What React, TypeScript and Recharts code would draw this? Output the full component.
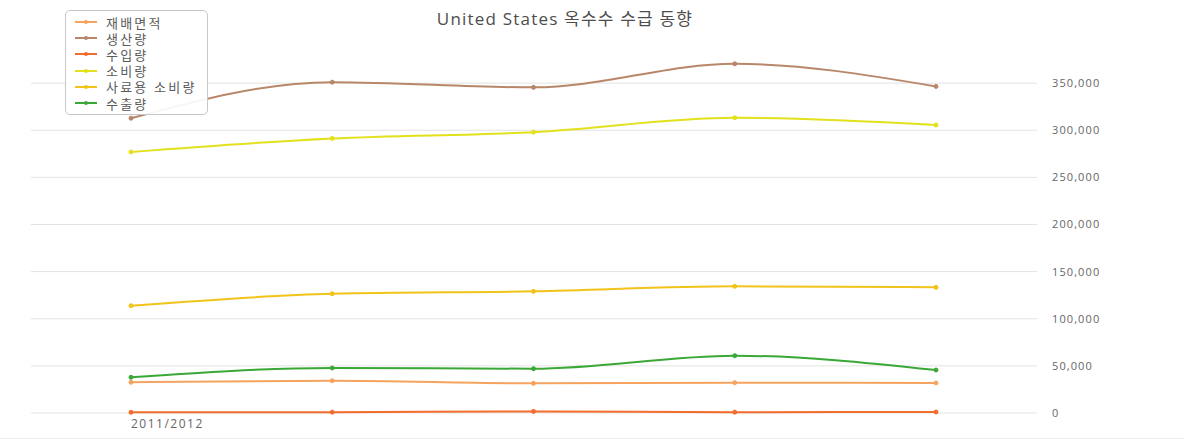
import { LineChart, Line, XAxis, YAxis, CartesianGrid } from 'recharts'

const categories = ['2011/2012', '2013/2014', '2015/2016', '2017/2018', '2019/2020']
const area = [32600, 34300, 31500, 32200, 31800]
const production = [312800, 351000, 345500, 370500, 346500]
const imports = [740, 920, 1720, 910, 1070]
const consumption = [277000, 291300, 298000, 313200, 305500]
const feed = [113800, 126500, 129100, 134400, 133300]
const exports = [37900, 47700, 47000, 60800, 45600]
const yTicks = [0, 50000, 100000, 150000, 200000, 250000, 300000, 350000]

const series = [
  { key: 'area', name: '재배면적', color: '#f5a35f', values: area },
  { key: 'production', name: '생산량', color: '#b8876a', values: production },
  { key: 'imports', name: '수입량', color: '#f26c2c', values: imports },
  { key: 'consumption', name: '소비량', color: '#e3e01c', values: consumption },
  { key: 'feed', name: '사료용 소비량', color: '#f2c31b', values: feed },
  { key: 'exports', name: '수출량', color: '#3aa836', values: exports },
]

const data = categories.map((c, i) => {
  const row: Record<string, string | number> = { year: c }
  series.forEach((s) => { row[s.key] = s.values[i] })
  return row
})

const FONT = '"Open Sans", "Noto Sans CJK KR", sans-serif'

function LegendBox() {
  return (
    <div
      style={{
        position: 'absolute',
        left: 65,
        top: 10,
        width: 143,
        height: 105,
        border: '1px solid #c8c8c8',
        borderRadius: 5,
        background: 'rgba(255,255,255,0.92)',
        boxSizing: 'border-box',
        padding: '3px 0 0 9px',
        fontFamily: FONT,
        zIndex: 3,
      }}
    >
      {series.map((s) => (
        <div key={s.key} style={{ display: 'flex', alignItems: 'center', height: 16.2 }}>
          <svg width={22} height={10} style={{ marginRight: 9 }}>
            <line x1={0} y1={5} x2={22} y2={5} stroke={s.color} strokeWidth={2} />
            <circle cx={11} cy={5} r={2} fill={s.color} />
          </svg>
          <span style={{ fontSize: 13, letterSpacing: 2.2, color: '#5a5a5a', whiteSpace: 'nowrap' }}>{s.name}</span>
        </div>
      ))}
    </div>
  )
}

function XTick(props: any) {
  const { x, y, payload } = props
  if (payload.index !== 0) return null
  return (
    <text x={x} y={y + 7} textAnchor="start" fontSize={12} letterSpacing={1.5} fill="#666" fontFamily={FONT}>
      {payload.value}
    </text>
  )
}

export default function App() {
  return (
    <div style={{ position: 'absolute', left: 0, top: 0, width: 1184, height: 443, background: '#fff' }}>
      <div
        style={{
          position: 'absolute',
          left: 265,
          width: 600,
          top: 5,
          textAlign: 'center',
          fontSize: 17,
          letterSpacing: 1.2,
          color: '#4d4d4d',
          fontFamily: FONT,
          zIndex: 2,
        }}
      >
        United States 옥수수 수급 동향
      </div>
      <LineChart width={1184} height={443} data={data} margin={{ top: 36, right: 0, bottom: 5, left: 31 }}>
        <CartesianGrid vertical={false} stroke="#e3e3e3" horizontalValues={yTicks} />
        <XAxis
          dataKey="year"
          height={25}
          axisLine={false}
          tickLine={false}
          tick={<XTick />}
          interval={0}
          padding={{ left: 100, right: 101 }}
        />
        <YAxis
          orientation="right"
          width={147}
          domain={[0, 400000]}
          ticks={yTicks}
          axisLine={false}
          tickLine={false}
          tickMargin={9}
          tickFormatter={(v: number) => v.toLocaleString('en-US')}
          tick={{ fontSize: 11, letterSpacing: 1.1, fill: '#666', fontFamily: FONT, textAnchor: 'start' }}
        />
        {series.map((s) => (
          <Line
            key={s.key}
            type="monotone"
            dataKey={s.key}
            name={s.name}
            stroke={s.color}
            strokeWidth={2}
            dot={{ r: 2, fill: s.color, stroke: s.color, strokeWidth: 1 }}
            isAnimationActive={false}
          />
        ))}
      </LineChart>
      <LegendBox />
      <div style={{ position: 'absolute', left: 0, top: 438, width: 1184, height: 1, background: '#eee' }} />
    </div>
  )
}
